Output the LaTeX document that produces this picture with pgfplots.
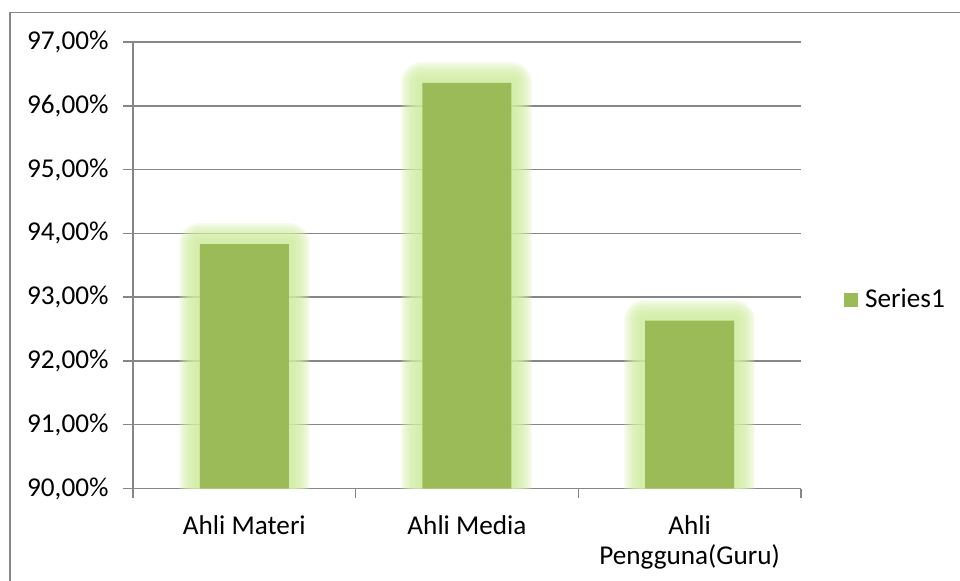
\documentclass[border=0pt]{standalone}
\usepackage{pgfplots}
\pgfplotsset{compat=1.18}
\usepackage{fontspec}
\setmainfont{Carlito}
\definecolor{bargreen}{HTML}{9BBB59}
\definecolor{glow}{HTML}{D2EEA2}
\definecolor{gridgray}{HTML}{868686}
\pgfplotstableread{
x y
0 93.83
1 96.36
2 92.63
}\datatable
\pgfplotsset{glowbar/.style={ybar, bar shift=0pt, bar width=44.5pt, fill=glow, draw=glow, line join=round, forget plot, opacity=0.2, line width=#1}}
\begin{document}
\fontsize{13.6}{16}\selectfont
\begin{tikzpicture}
\clip (0,0) rectangle (480pt,290pt);
\fill[white] (0,0) rectangle (480pt,290pt);
\draw[gridgray, line width=0.75pt] (5pt,-5pt) -- (5pt,283.75pt) -- (490pt,283.75pt);
\begin{axis}[
  at={(66.5pt,45.75pt)}, anchor=south west,
  scale only axis, width=334pt, height=223.25pt,
  ymin=90, ymax=97, ytick={90,91,...,97},
  xmin=-0.5, xmax=2.5, xtick={0,1,2},
  xticklabels={Ahli Materi, Ahli Media, {Ahli\\Pengguna(Guru)}},
  minor xtick={-0.5,0.5,1.5,2.5},
  axis lines=left, axis line style={-, gridgray, line width=0.75pt},
  tick align=outside,
  major tick length=5pt, minor tick length=4.5pt,
  major x tick style={draw=none},
  minor tick style={gridgray, line width=0.75pt},
  major y tick style={gridgray, line width=0.75pt},
  ymajorgrids, grid style={gridgray, line width=0.75pt},
  /pgf/number format/assume math mode=true,
  yticklabel={\pgfmathprintnumber[fixed,fixed zerofill,precision=2,use comma]{\tick}\%},
  yticklabel style={xshift=-2.5pt, font=\fontsize{13.6}{16}\selectfont},
  xticklabel style={align=center, font=\fontsize{13.6}{14.7}\selectfont, yshift=-4pt},
  legend style={at={(1.064,0.422)}, anchor=west, draw=none, fill=none, inner sep=0pt,
    font=\fontsize{13.6}{16}\selectfont},
  legend image code/.code={\fill[bargreen] (0pt,-3.5pt) rectangle (7pt,3.5pt);},
  legend cell align=left,
]
\addplot[glowbar=21pt] table {\datatable};
\addplot[glowbar=19pt] table {\datatable};
\addplot[glowbar=17pt] table {\datatable};
\addplot[glowbar=15pt] table {\datatable};
\addplot[glowbar=13pt] table {\datatable};
\addplot[glowbar=11pt] table {\datatable};
\addplot[glowbar=9pt] table {\datatable};
\addplot[glowbar=7pt] table {\datatable};
\addplot[glowbar=5pt] table {\datatable};
\addplot[ybar, bar shift=0pt, bar width=44.5pt, fill=bargreen, draw=none] table {\datatable};
\addlegendentry{\hspace{1.5pt}Series1}
\end{axis}
\end{tikzpicture}
\end{document}
